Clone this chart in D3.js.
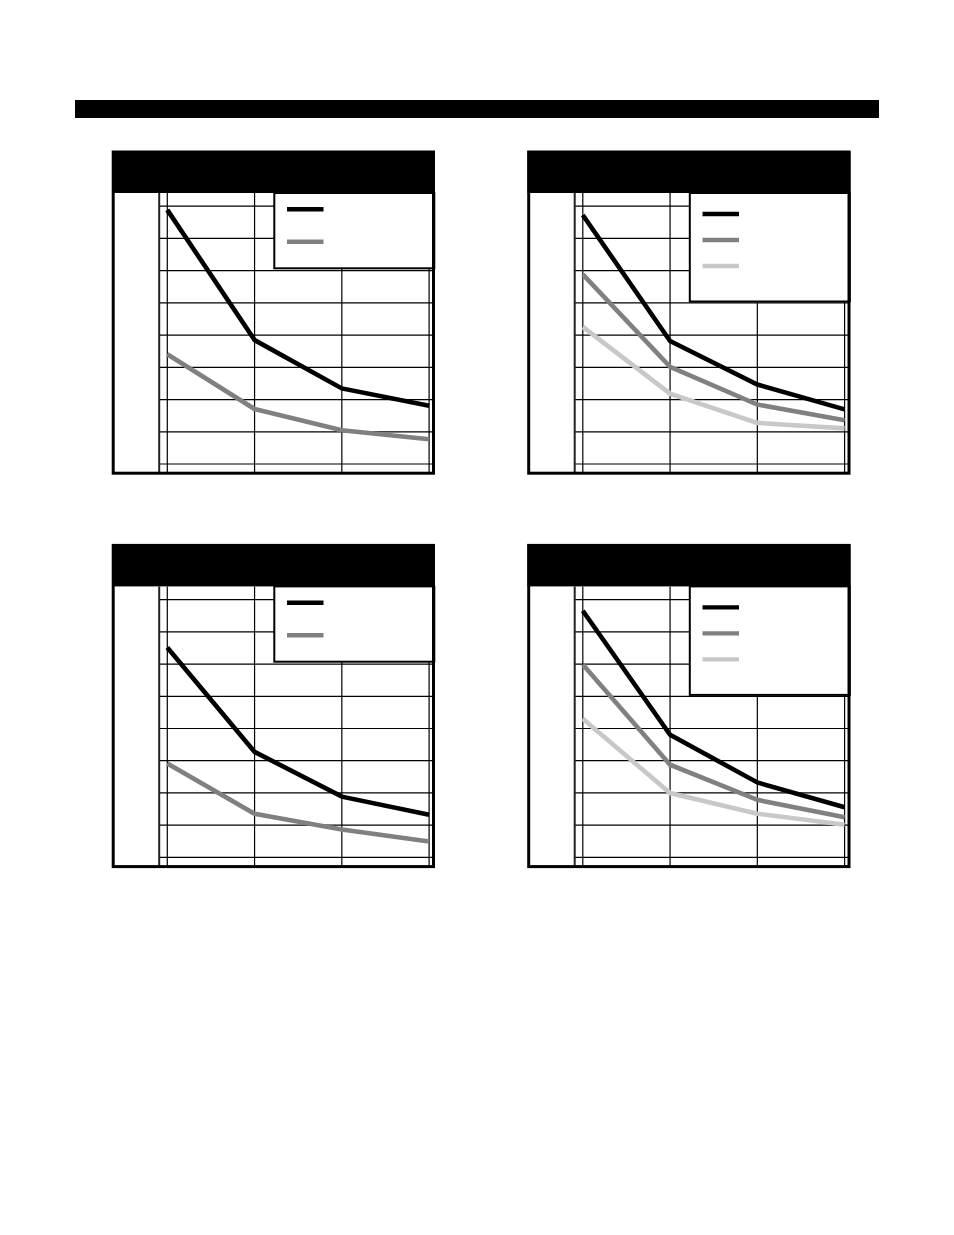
<!DOCTYPE html>
<html><head><meta charset="utf-8">
<script src="https://cdn.jsdelivr.net/npm/d3@7"></script>
<style>body{margin:0;background:#fff}svg{display:block}</style>
</head><body>
<script>
// ---- data ----
const categories = [0, 1, 2, 3];
const yTicks = [0, 1, 2, 3, 4, 5, 6, 7, 8];
const panel1Black = [7.87, 3.83, 2.33, 1.79];
const panel1Gray  = [3.39, 1.69, 1.03, 0.75];
const panel2Black = [7.71, 3.80, 2.45, 1.68];
const panel2Gray  = [5.87, 3.00, 1.83, 1.34];
const panel2Light = [4.24, 2.17, 1.26, 1.09];
const panel3Black = [6.50, 3.26, 1.87, 1.31];
const panel3Gray  = [2.90, 1.34, 0.85, 0.48];
const panel4Black = [7.64, 3.79, 2.31, 1.54];
const panel4Gray  = [5.97, 2.86, 1.77, 1.23];
const panel4Light = [4.29, 1.98, 1.34, 1.00];

const colors = ["#000000", "#808080", "#c8c8c8"];

const panels = [
  {dx: 0,     dy: 0,     series: [panel1Black, panel1Gray]},
  {dx: 415.5, dy: 0,     series: [panel2Black, panel2Gray, panel2Light]},
  {dx: 0,     dy: 393.4, series: [panel3Black, panel3Gray]},
  {dx: 415.5, dy: 393.4, series: [panel4Black, panel4Gray, panel4Light]}
];

const svg = d3.select("body").append("svg").attr("width", 954).attr("height", 1235);

// top banner
svg.append("rect").attr("x", 75).attr("y", 100).attr("width", 804).attr("height", 18).attr("fill", "#000");

const x = d3.scalePoint().domain(categories).range([166.8, 428.6]);
const y = d3.scaleLinear().domain([0, 8]).range([463.5, 205.7]);

panels.forEach(p => {
  const g = svg.append("g").attr("transform", `translate(${p.dx},${p.dy})`);
  g.append("rect").attr("x", 113).attr("y", 152).attr("width", 320.5).attr("height", 320.5)
    .attr("fill", "#fff");

  // horizontal grid via axis
  const gy = g.append("g").attr("transform", "translate(159,0)")
    .call(d3.axisRight(y).tickValues(yTicks).tickSize(274).tickFormat(""));
  gy.select(".domain").remove();
  gy.selectAll("line").attr("stroke", "#000").attr("stroke-width", 1.2);

  // vertical grid via axis
  const gx = g.append("g").attr("transform", "translate(0,193)")
    .call(d3.axisBottom(x).tickSize(279).tickFormat(""));
  gx.select(".domain").remove();
  gx.selectAll("line").attr("stroke", "#000").attr("stroke-width", 1.2);

  // inner left separator
  g.append("line").attr("x1", 159.2).attr("x2", 159.2).attr("y1", 193).attr("y2", 472)
    .attr("stroke", "#222").attr("stroke-width", 2);

  // series lines
  const line = d3.line().x((d, i) => x(categories[i]) + 0.5).y(d => y(d));
  p.series.slice().reverse().forEach((s, ri) => {
    const i = p.series.length - 1 - ri;
    g.append("path").attr("d", line(s)).attr("fill", "none")
      .attr("stroke", colors[i]).attr("stroke-width", 4.6).attr("stroke-linejoin", "miter");
  });

  // legend
  const n = p.series.length;
  const lb = n === 2 ? 268.3 : 301.5;
  g.append("rect").attr("x", 274.3).attr("y", 193).attr("width", 160).attr("height", lb - 193)
    .attr("fill", "#fff").attr("stroke", "#000").attr("stroke-width", 2);
  const ly = n === 2 ? [209.3, 241.8] : [214, 240, 266];
  p.series.forEach((s, i) => {
    g.append("line").attr("x1", 287).attr("x2", 323.5).attr("y1", ly[i]).attr("y2", ly[i])
      .attr("stroke", colors[i]).attr("stroke-width", 4.4);
  });

  // header
  g.append("rect").attr("x", 112).attr("y", 151).attr("width", 323).attr("height", 42).attr("fill", "#000");
  // outer border
  g.append("rect").attr("x", 113.2).attr("y", 152).attr("width", 320.3).attr("height", 321.2)
    .attr("fill", "none").attr("stroke", "#000").attr("stroke-width", 3);
});
</script>
</body></html>
